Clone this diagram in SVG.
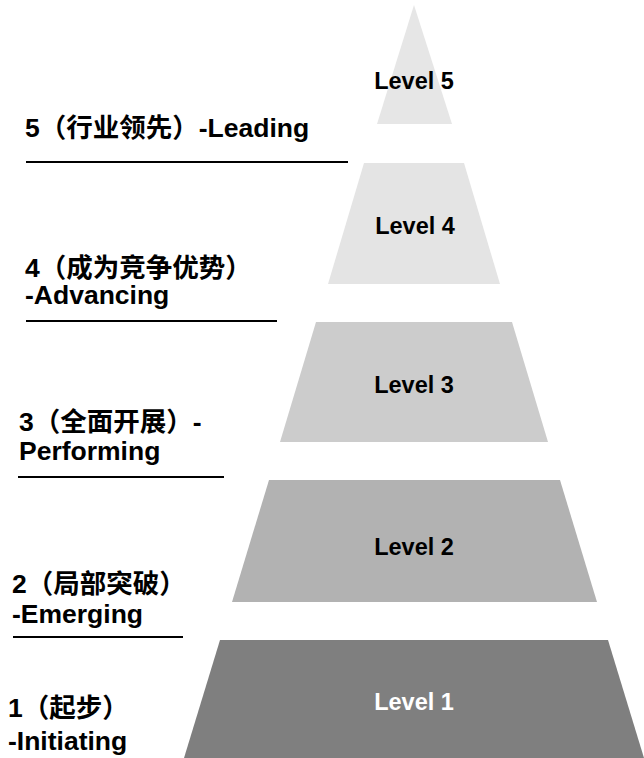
<svg xmlns="http://www.w3.org/2000/svg" width="644" height="758" viewBox="0 0 644 758">
<style>
.lvl{font-family:"Liberation Sans","Noto Sans CJK SC",Arial,sans-serif;font-weight:bold;font-size:23.5px;text-anchor:middle}
.lab{font-family:"Liberation Sans","Noto Sans CJK SC",Arial,sans-serif;font-weight:bold;font-size:26.5px;fill:#000}
.rule{stroke:#000;stroke-width:2;fill:none}
</style>
<rect width="644" height="758" fill="#ffffff"/>
<g id="level5">
<polygon points="414,5 377,124 452,124" fill="#e6e6e6"/>
<text class="lvl" x="414" y="89" fill="#000">Level 5</text>
</g>
<g id="level4">
<polygon points="364,163 464,163 500,284 328,284" fill="#e4e4e4"/>
<text class="lvl" x="415" y="234" fill="#000">Level 4</text>
</g>
<g id="level3">
<polygon points="316,322 512,322 548,442 280,442" fill="#cccccc"/>
<text class="lvl" x="414" y="393" fill="#000">Level 3</text>
</g>
<g id="level2">
<polygon points="269,480 560,480 597,602 232,602" fill="#b2b2b2"/>
<text class="lvl" x="414" y="555" fill="#000">Level 2</text>
</g>
<g id="level1">
<polygon points="220,640 608,640 644,758 184,758" fill="#7f7f7f"/>
<text class="lvl" x="414" y="710" fill="#ffffff">Level 1</text>
</g>
<g id="label5">
<text class="lab" x="25" y="137">5（行业领先）-Leading</text>
<line class="rule" x1="26" y1="162" x2="348" y2="162"/>
</g>
<g id="label4">
<text class="lab" x="25" y="277">4（成为竞争优势）</text>
<text class="lab" x="25" y="304">-Advancing</text>
<line class="rule" x1="26" y1="321" x2="277" y2="321"/>
</g>
<g id="label3">
<text class="lab" x="19" y="431">3（全面开展）-</text>
<text class="lab" x="19" y="460">Performing</text>
<line class="rule" x1="18" y1="477" x2="224" y2="477"/>
</g>
<g id="label2">
<text class="lab" x="12" y="593">2（局部突破）</text>
<text class="lab" x="12" y="623">-Emerging</text>
<line class="rule" x1="13" y1="637" x2="183" y2="637"/>
</g>
<g id="label1">
<text class="lab" x="8" y="717">1（起步）</text>
<text class="lab" x="8" y="750">-Initiating</text>
</g>
</svg>
